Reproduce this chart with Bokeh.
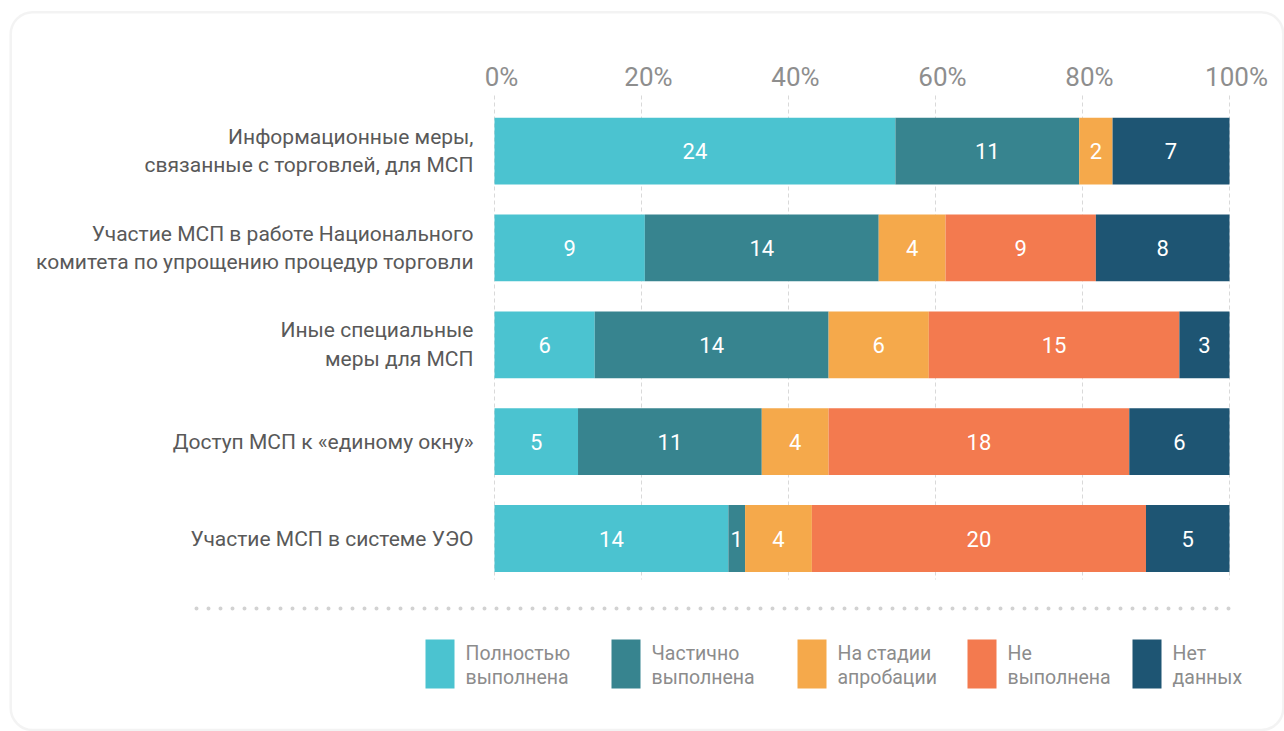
from bokeh.plotting import figure
from bokeh.models import Range1d, BoxAnnotation
from bokeh.core.properties import value
from bokeh.embed import file_html
from bokeh.resources import INLINE

# ---------------- data ----------------
categories = [
    "Информационные меры,\nсвязанные с торговлей, для МСП",
    "Участие МСП в работе Национального\nкомитета по упрощению процедур торговли",
    "Иные специальные\nмеры для МСП",
    "Доступ МСП к «единому окну»",
    "Участие МСП в системе УЭО",
]
series_names = [
    "Полностью\nвыполнена",
    "Частично\nвыполнена",
    "На стадии\nапробации",
    "Не\nвыполнена",
    "Нет\nданных",
]
full_done = [24, 9, 6, 5, 14]
partly_done = [11, 14, 14, 11, 1]
pilot_stage = [2, 4, 6, 4, 4]
not_done = [0, 9, 15, 18, 20]
no_data = [7, 8, 3, 6, 5]
tick_values = [0, 20, 40, 60, 80, 100]
tick_labels = ["0%", "20%", "40%", "60%", "80%", "100%"]

colors = ["#4bc3d0", "#37848f", "#f5a94b", "#f37a4f", "#1e5573"]
series = [full_done, partly_done, pilot_stage, not_done, no_data]

# ---------------- layout helpers (canvas pixels -> data) ----------------
W, H = 1284, 731
X0_PX, X100_PX = 494.0, 1229.0
ROW0_PX, ROW_STEP_PX = 150.6, 96.85


def xd(px):
    return (px - X0_PX) / (X100_PX - X0_PX) * 100.0


def yd(py):
    return (py - ROW0_PX) / ROW_STEP_PX


p = figure(
    width=W, height=H,
    x_range=Range1d(xd(0), xd(W)),
    y_range=Range1d(yd(H), yd(0)),
    output_backend="svg", toolbar_location=None,
    min_border=0, x_axis_location=None, y_axis_location=None,
    outline_line_color=None, background_fill_color="white",
    border_fill_color="white",
)
p.grid.visible = False

# outer rounded frame
frame = BoxAnnotation(
    left=xd(10.2), right=xd(1282.8), top=yd(11.7), bottom=yd(729.5),
    fill_alpha=0, line_color="#d7d7d7", line_width=2.5, border_radius=22,
)
p.add_layout(frame)

# grid lines
p.segment(x0=tick_values, x1=tick_values, y0=[yd(95)] * len(tick_values),
          y1=[yd(579)] * len(tick_values), line_color="#d9d9d9",
          line_width=1, line_dash="4 3")

# tick labels
p.text(x=tick_values, y=[yd(76)] * len(tick_values), text=tick_labels,
       text_font=value("Roboto"), text_font_size="26px", text_color="#8e8e8e",
       text_align="center", text_baseline="middle", x_offset=7)

# stacked bars
rows = list(range(len(categories)))
totals = [sum(s[i] for s in series) for i in rows]
left = [0.0] * len(rows)
for k, s in enumerate(series):
    pct = [s[i] / totals[i] * 100.0 for i in rows]
    right = [left[i] + pct[i] for i in rows]
    p.hbar(y=rows, left=left, right=right, height=0.69, fill_color=colors[k],
           line_color=None)
    lab_x, lab_y, lab_t = [], [], []
    for i in rows:
        if s[i] > 0:
            lab_x.append((left[i] + right[i]) / 2)
            lab_y.append(i)
            lab_t.append(str(s[i]))
    p.text(x=lab_x, y=lab_y, text=lab_t, text_font=value("Roboto"),
           text_font_size="22px", text_color="white", text_align="center",
           text_baseline="middle")
    left = right

# category labels
p.text(x=[xd(473)] * len(rows), y=rows, text=categories,
       text_font=value("Roboto"), text_font_size="21px", text_color="#595959",
       text_align="right", text_baseline="middle", text_line_height=1.2)

# dotted separator
p.line(x=[xd(196), xd(1230)], y=[yd(608), yd(608)], line_color="#d2d2d2",
       line_width=4, line_cap="round", line_dash="0 12")

# legend
leg_cx = [439.5, 625.5, 811.5, 981.5, 1146.5]
p.rect(x=[xd(c) for c in leg_cx], y=[yd(663.5)] * 5, width=29, height=49,
       width_units="screen", height_units="screen", fill_color=colors,
       line_color=None)
p.text(x=[xd(c + 25.5) for c in leg_cx], y=[yd(665)] * 5, text=series_names,
       text_font=value("Roboto"), text_font_size="19.5px", text_color="#8c8c8c",
       text_align="left", text_baseline="middle", text_line_height=1.05)

open("out.html", "w").write(file_html(p, INLINE))
